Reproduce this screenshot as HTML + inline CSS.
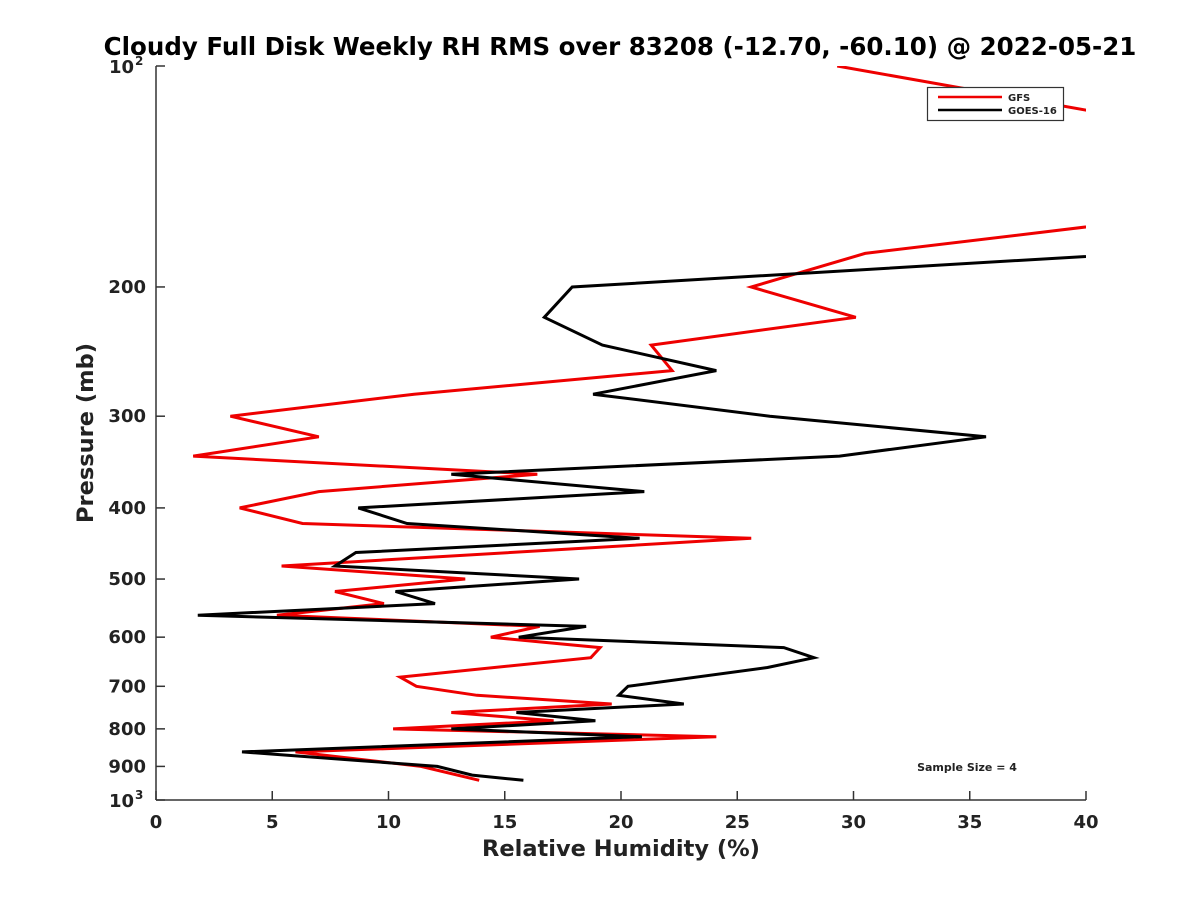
<!DOCTYPE html>
<html><head><meta charset="utf-8"><style>
body{margin:0;background:#fff}
svg{display:block}
text{font-family:"DejaVu Sans","Liberation Sans",sans-serif;font-weight:bold;fill:#222}
</style></head><body>
<svg id="chart" width="1200" height="900" viewBox="0 0 1200 900">
<defs><clipPath id="plotclip"><rect x="156" y="66" width="930" height="734"/></clipPath></defs>
<text x="620" y="55" text-anchor="middle" font-size="24.5" style="fill:#000">Cloudy Full Disk Weekly RH RMS over 83208 (-12.70, -60.10) @ 2022-05-21</text>
<g id="axes"></g>
<g id="series" clip-path="url(#plotclip)"></g>
<g>
<rect x="927.5" y="87.5" width="136" height="33" fill="#fff" stroke="#333" stroke-width="1.2"/>
<line x1="938" y1="97" x2="1002" y2="97" stroke="#e00" stroke-width="2.5"/>
<text x="1008" y="101" font-size="10">GFS</text>
<line x1="938" y1="110" x2="1002" y2="110" stroke="#000" stroke-width="2.5"/>
<text x="1008" y="114" font-size="10">GOES-16</text>
</g>
<text x="967" y="771" text-anchor="middle" font-size="11">Sample Size = 4</text>
<text x="621" y="856" text-anchor="middle" font-size="22.5">Relative Humidity (%)</text>
<text transform="translate(93,433) rotate(-90)" text-anchor="middle" font-size="22.5">Pressure (mb)</text>
</svg>
<script>
const xTicks=[0,5,10,15,20,25,30,35,40];
const yTicks=[200,300,400,500,600,700,800,900];
const gfsP=[100,120,160,180,200,220,240,260,280,300,320,340,360,380,400,420,440,480,500,520,540,560,580,600,620,640,680,700,720,740,760,780,800,820,860,900,940];
const gfsRH=[29.3,43.4,44,30.5,25.6,30.1,21.3,22.2,11.1,3.2,7.0,1.6,16.4,7.0,3.6,6.3,25.6,5.4,13.3,7.7,9.8,5.2,16.5,14.4,19.1,18.7,10.5,11.2,13.8,19.6,12.7,17.1,10.2,24.1,6.0,11.4,13.9];
const goesP=[180,200,220,240,260,280,300,320,340,360,380,400,420,440,460,480,500,520,540,560,580,600,620,640,660,700,720,740,760,780,800,820,860,900,925,940];
const goesRH=[42.2,17.9,16.7,19.2,24.1,18.8,26.4,35.7,29.4,12.7,21.0,8.7,10.8,20.8,8.6,7.7,18.2,10.3,12.0,1.8,18.5,15.6,27.0,28.3,26.3,20.3,19.9,22.7,15.5,18.9,12.7,20.9,3.7,12.1,13.6,15.8];
const X0=156,X1=1086,Y0=66,Y1=800;
function xs(v){return X0+(v-0)/(40-0)*(X1-X0);}
function ys(p){return Y0+(Math.log10(p)-2)*(Y1-Y0);}
const NS='http://www.w3.org/2000/svg';
const axes=document.getElementById('axes');
const series=document.getElementById('series');
function mk(tag,attrs,parent){const e=document.createElementNS(NS,tag);for(const k in attrs)e.setAttribute(k,attrs[k]);parent.appendChild(e);return e;}
let ax=mk('line',{x1:X0,y1:Y0,x2:X0,y2:Y1,stroke:'#333','stroke-width':1.5},axes);


let bx=mk('line',{x1:X0,y1:Y1,x2:X1,y2:Y1,stroke:'#333','stroke-width':1.5},axes);


xTicks.forEach(v=>{
  const t=mk('line',{x1:xs(v),y1:Y1,x2:xs(v),y2:Y1-9,stroke:'#333','stroke-width':1.5},axes);
  
  
  const l=mk('text',{x:xs(v),y:Y1+28,'text-anchor':'middle','font-size':18},axes);
  l.textContent=v;
  
  
});
yTicks.forEach(p=>{
  const t=mk('line',{x1:X0,y1:ys(p),x2:X0+9,y2:ys(p),stroke:'#333','stroke-width':1.5},axes);
  
  
  const l=mk('text',{x:X0-10,y:ys(p)+6,'text-anchor':'end','font-size':18},axes);
  l.textContent=p;
  
  
});
[[100,'2'],[1000,'3']].forEach(([p,e])=>{
  const t=mk('line',{x1:X0,y1:ys(p),x2:X0+9,y2:ys(p),stroke:'#333','stroke-width':1.5},axes);
  
  
  const l=mk('text',{x:X0-22,y:ys(p)+7,'text-anchor':'end','font-size':18},axes);
  l.textContent='10';
  
  
  const s=mk('text',{x:X0-21,y:ys(p)-1,'font-size':12},axes);
  s.textContent=e;
  
  
});
function line(P,V,color,name){
  const d=P.map((p,i)=>(i?'L':'M')+xs(V[i]).toFixed(1)+','+ys(p).toFixed(1)).join(' ');
  const e=mk('path',{d:d,fill:'none',stroke:color,'stroke-width':3,'stroke-linejoin':'miter'},series);
  
  
}
line(gfsP,gfsRH,'#e00','gfs-line');
line(goesP,goesRH,'#000','goes16-line');
</script>
</body></html>
